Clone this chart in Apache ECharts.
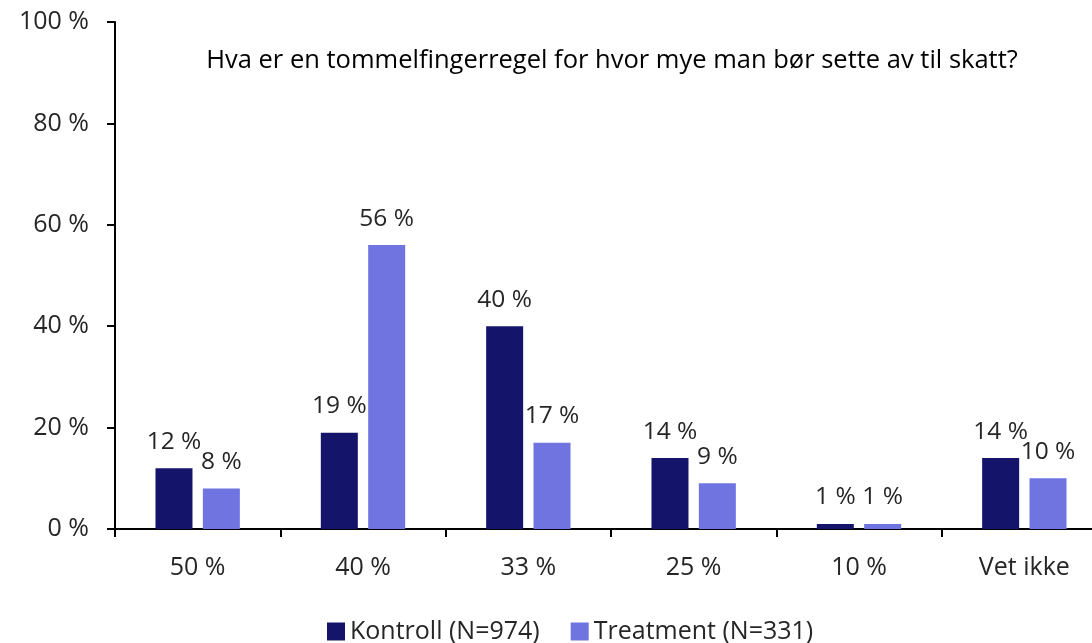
<!DOCTYPE html>
<html>
<head>
<meta charset="utf-8">
<script src="https://cdn.jsdelivr.net/npm/echarts@6/dist/echarts.min.js"></script>
<style>
  html, body { margin: 0; padding: 0; background: #fff; overflow: hidden; width: 1092px; height: 643px; }
  /* the plot area runs slightly past the right edge of the page */
  #chart { width: 1107px; height: 643px; }
</style>
</head>
<body>
<div id="chart"></div>
<script>
// Answer options and share of respondents (percent) per group
const categories = ['50 %', '40 %', '33 %', '25 %', '10 %', 'Vet ikke'];
const kontroll = [12, 19, 40, 14, 1, 14];
const treatment = [8, 56, 17, 9, 1, 10];
const seriesNames = ['Kontroll (N=974)', 'Treatment (N=331)'];
const titleText = 'Hva er en tommelfingerregel for hvor mye man bør sette av til skatt?';

const FONT = 'Open Sans';
const TEXT = '#262626';
const SIZE = 24.5;

const chart = echarts.init(document.getElementById('chart'));

const labelOpt = {
  show: true,
  position: 'top',
  distance: 14,
  color: TEXT,
  fontFamily: FONT,
  fontSize: SIZE,
  formatter: p => p.value + ' %'
};

chart.setOption({
  animation: false,
  title: {
    text: titleText,
    left: 607,
    textAlign: 'center',
    top: 43,
    textStyle: { color: '#000', fontFamily: FONT, fontSize: 25.5, fontWeight: 'normal' }
  },
  legend: {
    data: seriesNames,
    top: 614,
    left: 322,
    itemWidth: 18,
    itemHeight: 18,
    itemGap: 31,
    icon: 'rect',
    textStyle: { color: TEXT, fontFamily: FONT, fontSize: 25 }
  },
  grid: { left: 115, right: 0, top: 22, height: 507, containLabel: false },
  xAxis: {
    type: 'category',
    data: categories,
    axisLine: { lineStyle: { color: '#000', width: 2 } },
    axisTick: { show: true, length: 8, lineStyle: { color: '#000', width: 2 } },
    axisLabel: { color: TEXT, fontFamily: FONT, fontSize: 25, margin: 26 }
  },
  yAxis: {
    type: 'value',
    min: 0,
    max: 100,
    interval: 20,
    splitLine: { show: false },
    axisLine: { show: true, lineStyle: { color: '#000', width: 2 } },
    axisTick: { show: true, length: 8, lineStyle: { color: '#000', width: 2 } },
    axisLabel: { color: TEXT, fontFamily: FONT, fontSize: 25, margin: 26, formatter: v => v + ' %' }
  },
  series: [
    {
      name: seriesNames[0],
      type: 'bar',
      data: kontroll,
      barWidth: 37,
      barGap: '28%',
      itemStyle: { color: '#14146b' },
      label: labelOpt
    },
    {
      name: seriesNames[1],
      type: 'bar',
      data: treatment,
      barWidth: 37,
      itemStyle: { color: '#6f74e0' },
      label: labelOpt
    }
  ]
});
</script>
</body>
</html>
